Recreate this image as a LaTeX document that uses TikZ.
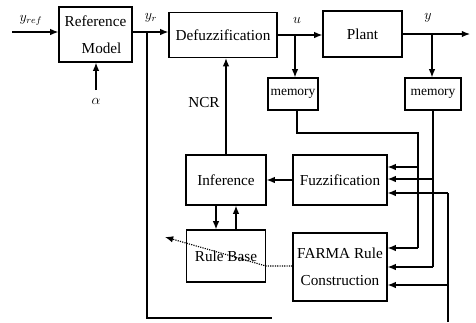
\documentclass[tikz,border=0pt]{standalone}
\usepackage{fontspec}
\setmainfont{Liberation Serif}
\usetikzlibrary{arrows.meta}

\tikzset{
  blk/.style={shape=rectangle, draw=black, line width=1pt, inner sep=0pt, align=center, font=\fontsize{13}{23}\selectfont},
  arr/.style={-{Latex[length=7pt,width=5.5pt]}, line width=1pt},
  ln/.style={line width=1pt},
  lbl/.style={font=\fontsize{12}{14}\selectfont, inner sep=1pt}
}

\begin{document}
\begin{tikzpicture}[x=0.03cm, y=-0.03cm]
\useasboundingbox (0,0) rectangle (476,322);

\node[blk, minimum width=2.19cm, minimum height=1.65cm](refmodel) at (95.5,34.5) {Reference\\\hspace*{0.8em}Model};
\node[blk, minimum width=3.24cm, minimum height=1.35cm](defuzz) at (223,35) {Defuzzification};
\node[blk, minimum width=2.37cm, minimum height=1.38cm](plant) at (362.5,34) {Plant};
\node[blk, minimum width=1.5cm, minimum height=0.96cm, font=\fontsize{11.5}{13}\selectfont](mem1) at (293,94) {memory};
\node[blk, minimum width=1.68cm, minimum height=0.96cm, font=\fontsize{11.5}{13}\selectfont](mem2) at (433,94) {memory};
\node[blk, minimum width=2.4cm, minimum height=1.5cm](inference) at (226,180) {Inference};
\node[blk, minimum width=2.82cm, minimum height=1.5cm](fuzz) at (340,180) {Fuzzification};
\node[blk, minimum width=2.37cm, minimum height=1.56cm](rulebase) at (226,256) {Rule Base};
\node[blk, minimum width=2.82cm, minimum height=2.04cm](farma) at (340,267) {FARMA Rule\\Construction};

% labels
\node[lbl](lyref) at (31,20) {$y_{ref}$};
\node[lbl](lyr) at (151,18) {$y_r$};
\node[lbl](lalpha) at (96,101) {$\alpha$};
\node[lbl](lu) at (297,20) {$u$};
\node[lbl](ly) at (428,18) {$y$};
\node[lbl, anchor=east, font=\fontsize{13}{14}\selectfont](lncr) at (221,103) {NCR};

% reference model
\coordinate (yin) at (12,32);
\coordinate (yr) at (147,32);
\coordinate (yrbot) at (147,318);
\coordinate (yrend) at (272,318);
\coordinate (ain) at (96,90);
\draw[arr] (yin) -- (yin -| refmodel.west);
\draw[ln] (yin -| refmodel.east) -- (yr);
\draw[arr] (yr) -- (yr -| defuzz.west);
\draw[ln] (yr) -- (yrbot) -- (yrend);
\draw[arr] (ain) -- (ain |- refmodel.south);

% controller and plant
\coordinate (ub) at (295,35);
\coordinate (yb) at (432,34);
\coordinate (yout) at (470,34);
\draw[ln] (defuzz.east |- ub) -- (ub);
\draw[arr] (ub) -- (ub -| plant.west);
\draw[arr] (ub) -- (ub |- mem1.north);
\draw[arr] (plant.east |- yb) -- (yout);
\draw[arr] (yb) -- (yb |- mem2.north);

\draw[arr] (inference.north) -- (inference.north |- defuzz.south);
\draw[arr] (fuzz.west) -- (inference.east);
\draw[arr] ([xshift=-0.3cm]inference.south) -- ([xshift=-0.3cm]rulebase.north);
\draw[arr] ([xshift=0.3cm]rulebase.north) -- ([xshift=0.3cm]inference.south);

% memory outputs
\coordinate (m1a) at (297,133);
\coordinate (m1b) at (418,133);
\coordinate (m1f) at (418,167);
\coordinate (m1c) at (418,248);
\draw[ln] (mem1.south -| m1a) -- (m1a) -- (m1b) -- (m1c);
\draw[arr] (m1f) -- (m1f -| fuzz.east);
\draw[arr] (m1c) -- (m1c -| farma.east);

\coordinate (m2f) at (433,179);
\coordinate (m2c) at (433,267);
\draw[ln] (mem2.south) -- (m2c);
\draw[arr] (m2f) -- (m2f -| fuzz.east);
\draw[arr] (m2c) -- (m2c -| farma.east);

\coordinate (ra) at (448,193);
\coordinate (rf) at (448,285);
\coordinate (rb) at (448,322);
\draw[ln] (rb) -- (ra);
\draw[arr] (ra) -- (ra -| fuzz.east);
\draw[arr] (rf) -- (rf -| farma.east);

% adaptation
\coordinate (da) at (266,266);
\coordinate (db) at (165,237);
\draw[arr, densely dotted] (farma.west |- da) -- (da) -- (db);

\end{tikzpicture}
\end{document}
